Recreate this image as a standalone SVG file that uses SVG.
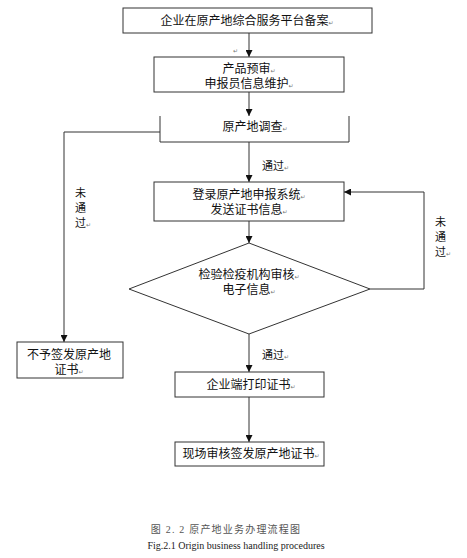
<svg xmlns="http://www.w3.org/2000/svg" width="467" height="558" viewBox="0 0 467 558">
<style>
.box{fill:#fff;stroke:#333;stroke-width:1}
.ln{fill:none;stroke:#333;stroke-width:1}
.t{font-family:"Liberation Sans","Noto Sans CJK SC",sans-serif;font-size:12px;fill:#111;text-anchor:middle}
.lb{font-family:"Liberation Sans","Noto Sans CJK SC",sans-serif;font-size:11px;fill:#111}
.pm{font-family:"DejaVu Sans",sans-serif;font-size:6px;fill:#777}
.cap{font-family:"Liberation Serif","Noto Sans CJK SC",serif;font-size:10px;fill:#222;text-anchor:middle}
.capc{font-family:"Liberation Serif","Noto Sans CJK SC",serif;font-size:10px;fill:#555;text-anchor:middle;letter-spacing:1.2px}
</style>
<defs>
<marker id="ah" viewBox="0 0 8 8" refX="8" refY="4" markerWidth="7" markerHeight="7" markerUnits="userSpaceOnUse" orient="auto">
<path d="M0,0 L8,4 L0,8 z" fill="#111"/>
</marker>
</defs>
<g id="connectors">
<line class="ln" x1="249" y1="33" x2="249" y2="57" marker-end="url(#ah)"/>
<line class="ln" x1="249" y1="92" x2="249" y2="116" marker-end="url(#ah)"/>
<polyline class="ln" points="160,132 64,132 64,342" marker-end="url(#ah)"/>
<line class="ln" x1="249" y1="142" x2="249" y2="182" marker-end="url(#ah)"/>
<line class="ln" x1="249" y1="221" x2="249" y2="243" marker-end="url(#ah)"/>
<polyline class="ln" points="370,289 424,289 424,192 344,192" marker-end="url(#ah)"/>
<line class="ln" x1="249" y1="334" x2="249" y2="372" marker-end="url(#ah)"/>
<line class="ln" x1="249" y1="397" x2="249" y2="442" marker-end="url(#ah)"/>
<text class="pm" x="233" y="53">↵</text>
<text class="lb" x="262" y="170">通过<tspan class="pm">↵</tspan></text>
<text class="lb" x="262" y="359">通过<tspan class="pm">↵</tspan></text>
<text class="lb" x="75" y="197">未</text>
<text class="lb" x="75" y="212">通</text>
<text class="lb" x="75" y="227">过<tspan class="pm">↵</tspan></text>
<text class="lb" x="435" y="226">未</text>
<text class="lb" x="435" y="241">通</text>
<text class="lb" x="435" y="256">过<tspan class="pm">↵</tspan></text>
</g>
<g id="n1">
<rect class="box" x="123" y="8" width="249" height="25"/>
<text class="t" x="247" y="25">企业在原产地综合服务平台备案<tspan class="pm">↵</tspan></text>
</g>
<g id="n2">
<rect class="box" x="154" y="57" width="190" height="35"/>
<text class="t" x="249" y="73">产品预审<tspan class="pm">↵</tspan></text>
<text class="t" x="249" y="88">申报员信息维护<tspan class="pm">↵</tspan></text>
</g>
<g id="n3">
<path class="ln" d="M160,116 V142 H349 V116"/>
<text class="t" x="255" y="131">原产地调查<tspan class="pm">↵</tspan></text>
</g>
<g id="n4">
<rect class="box" x="154" y="182" width="190" height="39"/>
<text class="t" x="249" y="199">登录原产地申报系统<tspan class="pm">↵</tspan></text>
<text class="t" x="249" y="214">发送证书信息<tspan class="pm">↵</tspan></text>
</g>
<g id="n5">
<polygon class="box" points="249,243 370,289 249,334 129,289"/>
<text class="t" x="249" y="279">检验检疫机构审核<tspan class="pm">↵</tspan></text>
<text class="t" x="249" y="294">电子信息<tspan class="pm">↵</tspan></text>
</g>
<g id="n6">
<rect class="box" x="17" y="342" width="106" height="36"/>
<text class="t" x="69" y="359">不予签发原产地</text>
<text class="t" x="69" y="374">证书<tspan class="pm">↵</tspan></text>
</g>
<g id="n7">
<rect class="box" x="175" y="372" width="149" height="25"/>
<text class="t" x="251" y="389">企业端打印证书<tspan class="pm">↵</tspan></text>
</g>
<g id="n8">
<rect class="box" x="175" y="442" width="149" height="24"/>
<text class="t" x="251" y="458">现场审核签发原产地证书<tspan class="pm">↵</tspan></text>
</g>
<g id="caption">
<text class="capc" x="226" y="533">图 2. 2  原产地业务办理流程图</text>
<text class="cap" x="236" y="549">Fig.2.1 Origin business handling procedures</text>
</g>
</svg>
